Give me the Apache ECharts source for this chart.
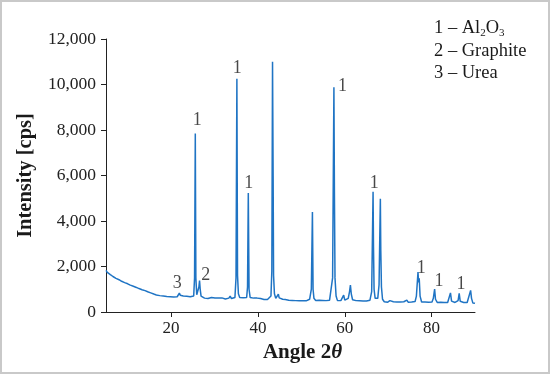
<!DOCTYPE html>
<html>
<head>
<meta charset="utf-8">
<script src="https://cdn.jsdelivr.net/npm/echarts@6/dist/echarts.min.js"></script>
<style>
  html, body { margin: 0; padding: 0; background: #fff; }
  #chart { width: 550px; height: 374px; }
</style>
</head>
<body>
<div id="chart"></div>
<script>
// XRD scan: [angle 2theta, intensity cps]
const scan = [
  [5.0,1830],[5.3,1740],[5.6,1760],[6.0,1640],[6.3,1670],[6.6,1560],[7.0,1590],[7.3,1480],[7.6,1520],[8.0,1420],
  [8.3,1450],[8.6,1350],[9.0,1390],[9.3,1290],[9.6,1330],[10.0,1240],[10.3,1280],[10.6,1180],[11.0,1220],[11.3,1130],
  [11.6,1170],[12.0,1080],[12.3,1120],[12.6,1030],[13.0,1070],[13.3,980],[13.6,1020],[14.0,940],[14.3,970],[14.6,890],
  [15.0,920],[15.3,840],[15.6,870],[16.0,790],[16.3,810],[16.6,750],[17.0,780],[17.4,720],[17.8,740],[18.2,700],
  [18.6,720],[19.0,680],[19.4,710],[19.8,670],[20.2,700],[20.6,660],[21.0,690],[21.4,670],[21.7,740],[21.9,830],
  [22.1,740],[22.4,670],[22.8,700],[23.2,650],[23.6,690],[24.0,640],[24.4,670],[24.8,630],[25.2,700],[25.4,1500],
  [25.57,7850],[25.7,1500],[25.9,760],[26.2,800],[26.4,1100],[26.55,1380],[26.7,1000],[26.9,700],[27.3,630],[27.7,610],
  [28.1,640],[28.5,590],[28.9,630],[29.3,640],[29.7,590],[30.1,620],[30.5,580],[30.9,620],[31.3,660],[31.7,620],
  [32.1,600],[32.5,570],[32.9,620],[33.3,610],[33.6,700],[33.9,590],[34.3,600],[34.7,640],[34.95,1500],[35.15,10250],
  [35.3,1600],[35.5,800],[35.8,640],[36.2,590],[36.6,630],[37.0,590],[37.4,640],[37.6,1100],[37.78,5230],[37.95,1000],
  [38.2,640],[38.6,590],[39.0,610],[39.4,570],[39.8,610],[40.2,550],[40.6,590],[41.0,620],[41.4,550],[41.8,590],
  [42.2,550],[42.6,600],[43.0,700],[43.2,1800],[43.36,11000],[43.5,5970],[43.6,1600],[43.8,800],[44.1,600],[44.5,650],
  [44.7,780],[44.9,620],[45.3,590],[45.7,560],[46.0,640],[46.3,550],[46.7,550],[47.1,520],[47.5,550],[47.9,510],
  [48.3,540],[48.7,500],[49.1,530],[49.5,490],[49.9,530],[50.3,490],[50.7,520],[51.1,490],[51.5,520],[51.9,560],
  [52.3,1000],[52.55,4400],[52.7,1000],[52.9,600],[53.3,510],[53.7,490],[54.1,520],[54.5,480],[54.9,510],[55.3,480],
  [55.7,500],[56.1,470],[56.5,520],[56.9,600],[57.2,1500],[57.5,9880],[57.62,5200],[57.75,1500],[58.0,700],[58.3,510],
  [58.7,490],[59.1,500],[59.5,520],[59.75,740],[60.0,520],[60.4,500],[60.8,600],[61.1,900],[61.3,1180],[61.5,800],
  [61.8,540],[62.2,480],[62.6,500],[63.0,460],[63.4,490],[63.8,450],[64.2,480],[64.6,450],[65.0,480],[65.4,460],
  [65.8,520],[66.2,900],[66.52,5280],[66.62,2850],[66.75,1000],[67.0,600],[67.3,520],[67.6,600],[67.9,1200],[68.2,4980],
  [68.3,2700],[68.45,1100],[68.7,560],[69.1,450],[69.5,470],[69.9,430],[70.4,500],[70.8,430],[71.2,450],[71.6,420],
  [72.0,440],[72.4,410],[72.8,440],[73.2,410],[73.6,450],[74.0,430],[74.3,520],[74.6,430],[75.0,410],[75.4,440],
  [75.8,420],[76.2,460],[76.5,700],[76.87,1760],[77.0,1300],[77.15,1480],[77.35,700],[77.7,440],[78.1,410],[78.5,440],
  [78.9,400],[79.3,430],[79.7,400],[80.1,440],[80.4,600],[80.7,1010],[80.9,560],[81.3,420],[81.7,400],[82.1,430],
  [82.5,400],[82.9,420],[83.3,390],[83.7,420],[84.0,480],[84.35,840],[84.6,480],[85.0,400],[85.4,420],[85.8,400],
  [86.1,500],[86.36,820],[86.6,470],[87.0,400],[87.4,420],[87.8,390],[88.2,420],[88.6,480],[88.99,950],[89.2,600],
  [89.5,400],[90.0,380]
];

// peak markers: [angle, intensity, text]
const peakLabels = [
  [21.4, 1260, '3'],
  [28.0, 1620, '2'],
  [26.0, 8440, '1'],
  [35.25, 10720, '1'],
  [37.9, 5680, '1'],
  [59.5, 9940, '1'],
  [66.8, 5680, '1'],
  [77.6, 1940, '1'],
  [81.7, 1350, '1'],
  [86.8, 1200, '1']
];

const xTicks = [20, 40, 60, 80];
const legendLines = [
  '1 – Al{sub|2}O{sub|3}',
  '2 – Graphite',
  '3 – Urea'
];

const serif = '"Liberation Serif", "DejaVu Serif", serif';
const chart = echarts.init(document.getElementById('chart'));

chart.setOption({
  animation: false,
  grid: { left: 106, right: 75, top: 39, bottom: 62 },
  xAxis: {
    type: 'value',
    min: 5,
    max: 90,
    name: '{a|Angle 2}{b|θ}',
    nameLocation: 'middle',
    nameGap: 24,
    nameTextStyle: {
      padding: [0, 0, 0, 24],
      rich: {
        a: { fontFamily: serif, fontSize: 21, fontWeight: 'bold', color: '#1a1a1a' },
        b: { fontFamily: serif, fontSize: 21, fontWeight: 'bold', fontStyle: 'italic', color: '#1a1a1a' }
      }
    },
    splitLine: { show: false },
    axisLine: { lineStyle: { color: '#222', width: 1 } },
    axisTick: { customValues: xTicks, length: 5, lineStyle: { color: '#222' } },
    axisLabel: { customValues: xTicks, fontFamily: serif, fontSize: 17, color: '#222', margin: 8 }
  },
  yAxis: {
    type: 'value',
    min: 0,
    max: 12000,
    interval: 2000,
    name: 'Intensity [cps]',
    nameLocation: 'middle',
    nameGap: 70,
    nameTextStyle: { fontFamily: serif, fontSize: 20.5, fontWeight: 'bold', color: '#1a1a1a' },
    splitLine: { show: false },
    axisLine: { show: true, lineStyle: { color: '#222', width: 1 } },
    axisTick: { show: true, length: 5, lineStyle: { color: '#222' } },
    axisLabel: {
      fontFamily: serif, fontSize: 17.5, color: '#222', margin: 10,
      formatter: v => v.toLocaleString('en-US')
    }
  },
  series: [
    {
      name: 'scan',
      type: 'line',
      data: scan,
      showSymbol: false,
      lineStyle: { color: '#1f74c4', width: 1.5 },
      silent: true
    },
    {
      name: 'peaks',
      type: 'scatter',
      data: peakLabels.map(p => ({ value: [p[0], p[1]], name: p[2] })),
      symbolSize: 0,
      label: {
        show: true,
        position: 'inside',
        formatter: p => p.name,
        fontFamily: serif,
        fontSize: 18,
        color: '#1a1a1a'
      },
      silent: true
    }
  ],
  graphic: [
    {
      type: 'rect',
      shape: { x: 1, y: 1, width: 548, height: 372 },
      style: { fill: 'none', stroke: '#c9c9c9', lineWidth: 2 },
      silent: true
    },
    ...legendLines.map((t, i) => ({
      type: 'text',
      left: 434,
      top: 19 + i * 22.5,
      style: {
        text: t,
        fontFamily: serif,
        fontSize: 18.5,
        fill: '#1a1a1a',
        rich: {
          sub: { fontFamily: serif, fontSize: 11, fill: '#1a1a1a', padding: [10, 0, 0, 0] }
        }
      },
      silent: true
    }))
  ]
});
</script>
</body>
</html>
